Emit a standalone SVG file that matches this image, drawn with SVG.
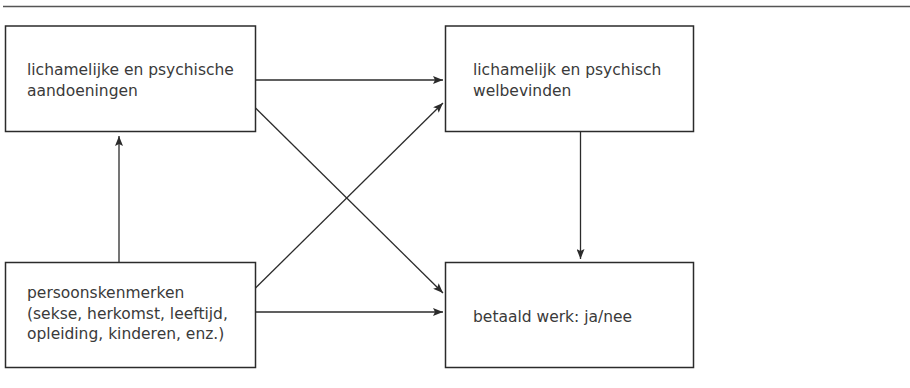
<svg xmlns="http://www.w3.org/2000/svg" width="910" height="388" viewBox="0 0 910 388">
<style>
.box{fill:#fff;stroke:#2b2b2b;stroke-width:1.5}
.t{font-family:"DejaVu Sans",sans-serif;font-size:15.5px;fill:#3a3a3a}
.c{stroke:#2b2b2b;stroke-width:1.3;fill:none;marker-end:url(#ah)}
</style>
<defs>
<marker id="ah" viewBox="0 0 10 8" refX="10" refY="4" markerWidth="10" markerHeight="8" markerUnits="userSpaceOnUse" orient="auto">
<path d="M0,0 L10,4 L0,8 L2,4 Z" fill="#2b2b2b"/>
</marker>
</defs>
<rect width="910" height="388" fill="#fff"/>
<line x1="3" y1="6.5" x2="910" y2="6.5" stroke="#555" stroke-width="1.5"/>
<g id="aandoeningen">
<rect class="box" x="5.5" y="26" width="250" height="105.5"/>
<text class="t" x="27" y="75">lichamelijke en psychische</text>
<text class="t" x="27" y="95.5">aandoeningen</text>
</g>
<g id="welbevinden">
<rect class="box" x="445.5" y="26" width="248" height="105.5"/>
<text class="t" x="473" y="75">lichamelijk en psychisch</text>
<text class="t" x="473" y="96">welbevinden</text>
</g>
<g id="persoonskenmerken">
<rect class="box" x="5.5" y="262.5" width="250" height="105"/>
<text class="t" x="27" y="298">persoonskenmerken</text>
<text class="t" x="27" y="318.5">(sekse, herkomst, leeftijd,</text>
<text class="t" x="27" y="339">opleiding, kinderen, enz.)</text>
</g>
<g id="betaaldwerk">
<rect class="box" x="445.5" y="262.5" width="248" height="105"/>
<text class="t" x="473" y="321.5">betaald werk: ja/nee</text>
</g>
<g id="connectors">
<line class="c" x1="255.5" y1="80" x2="443" y2="80"/>
<line class="c" x1="255.5" y1="108" x2="443" y2="293"/>
<line class="c" x1="255.5" y1="288" x2="443" y2="103"/>
<line class="c" x1="255.5" y1="312" x2="443" y2="312"/>
<line class="c" x1="119" y1="262.5" x2="119" y2="136"/>
<line class="c" x1="580.5" y1="131.5" x2="580.5" y2="259"/>
</g>
</svg>
